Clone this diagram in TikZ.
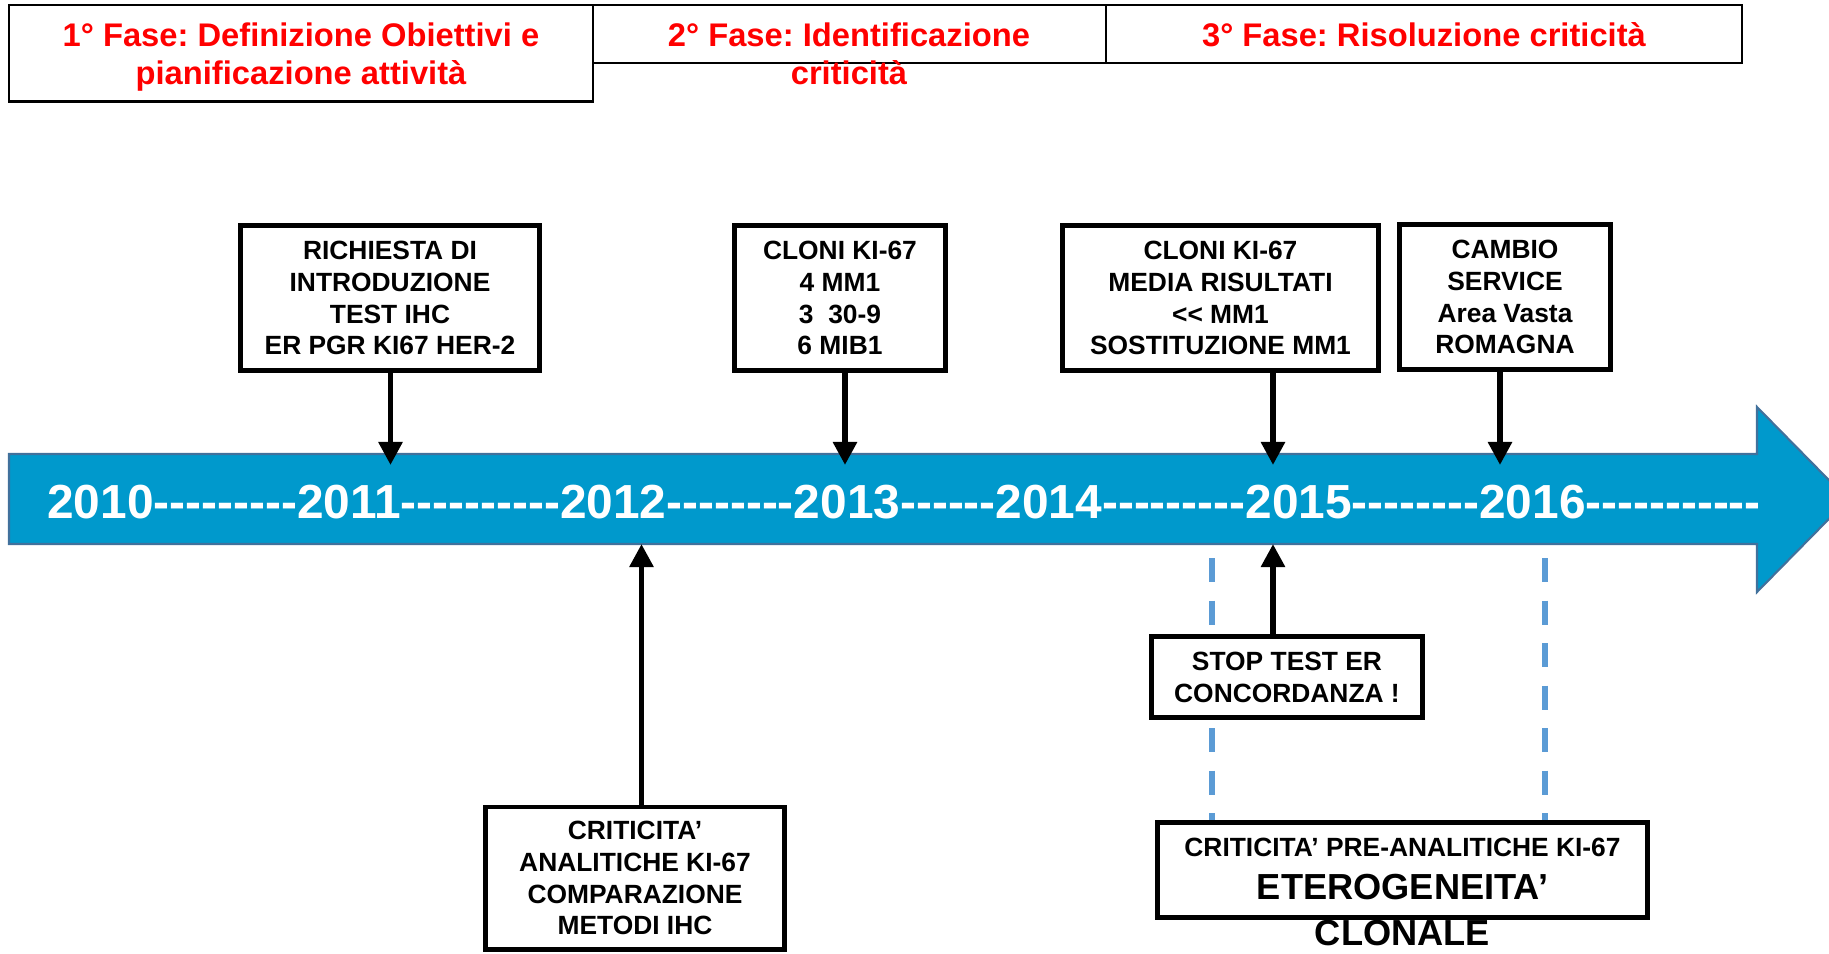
\documentclass[tikz,border=0pt]{standalone}
\usepackage{fontspec}
\setmainfont{Liberation Sans}
\usepackage{xcolor}
\usetikzlibrary{arrows.meta}
\frenchspacing
\definecolor{faserosso}{HTML}{FF0000}
\definecolor{bandablu}{HTML}{0099CC}
\definecolor{bordobanda}{HTML}{41719C}
\definecolor{trattoblu}{HTML}{5B9BD5}
\newcommand\trattini[1]{\foreach \k in {1,...,#1}{-\kern0pt}}
\tikzset{
  fase/.style={draw=black, line width=0.6pt, inner sep=0pt},
  fasetesto/.style={text=faserosso, align=center, inner sep=0pt,
    font=\fontsize{9.3}{10.95}\selectfont\bfseries},
  evento/.style={draw=black, fill=white, line width=1.4pt, align=center,
    inner sep=0pt, font=\fontsize{7.5}{9.07}\selectfont\bfseries},
  freccia/.style={-{Triangle[length=2.3mm,width=2.3mm]}, line width=1.6pt},
  anni/.style={text=white, inner sep=0pt,
    font=\fontsize{13.6}{16}\selectfont\bfseries},
  divisore/.style={trattoblu, line width=1.5pt, dash pattern=on 2.4mm off 1.85mm}
}

\begin{document}
\begin{tikzpicture}[x=0.01cm, y=-0.01cm]
  \useasboundingbox (0,0) rectangle (1829,954);
  \clip (0,0) rectangle (1829,954);

  \node[fase, minimum width=5.84cm, minimum height=0.965cm] (f1) at (301,53.25) {};
  \node[fase, minimum width=5.13cm, minimum height=0.58cm] (f2) at (849.5,34) {};
  \node[fase, minimum width=6.36cm, minimum height=0.58cm] (f3) at (1424,34) {};
  \node[fasetesto] (t1) at (301,57) {1° Fase: Definizione Obiettivi e\\pianificazione attività};
  \node[fasetesto] (t2) at (849,54) {2° Fase: Identificazione\\criticità};
  \node[fasetesto] (t3) at (1424,34.5) {3° Fase: Risoluzione criticità};

  \draw[fill=bandablu, draw=bordobanda, line width=0.6pt]
    (9,454) -- (1757,454) -- (1757,407) -- (1848,499.5) -- (1757,592)
    -- (1757,544) -- (9,544) -- cycle;
  \node[anni, anchor=base west] (anni) at (46.7,518)
    {2010\trattini{9}2011\trattini{10}2012\trattini{8}2013\trattini{6}2014\trattini{9}2015\trattini{8}2016\trattini{11}};

  \coordinate (s1) at (1212,558);
  \coordinate (s1e) at (1212,820);
  \coordinate (s2) at (1545,558);
  \coordinate (s2e) at (1545,820);
  \draw[divisore] (s1) -- (s1e);
  \draw[divisore] (s2) -- (s2e);

  \node[evento, minimum width=2.99cm, minimum height=1.45cm] (richiesta) at (390,298)
    {RICHIESTA DI\\INTRODUZIONE\\TEST IHC\\ER PGR KI67 HER-2};
  \node[evento, minimum width=2.10cm, minimum height=1.45cm] (cloni) at (840,298)
    {CLONI KI-67\\4 MM1\\3\ \ 30-9\\6 MIB1};
  \node[evento, minimum width=3.16cm, minimum height=1.45cm] (media) at (1220.5,298)
    {CLONI KI-67\\MEDIA RISULTATI\\<\kern0pt< MM1\\SOSTITUZIONE MM1};
  \node[evento, minimum width=2.10cm, minimum height=1.45cm] (cambio) at (1505,297)
    {CAMBIO\\SERVICE\\Area Vasta\\ROMAGNA};
  \node[evento, minimum width=2.99cm, minimum height=1.42cm] (analitiche) at (635,878)
    {CRITICITA’\\ANALITICHE KI-67\\COMPARAZIONE\\METODI IHC};
  \node[evento, minimum width=2.70cm, minimum height=0.81cm] (stop) at (1287,677)
    {STOP TEST ER\\CONCORDANZA !};
  \node[evento, minimum width=4.90cm, minimum height=0.95cm] (preanalitiche) at (1402.5,870) {};
  \node[align=center, inner sep=0pt, font=\fontsize{10.3}{13.1}\selectfont\bfseries] (eterogeneita) at (1402.5,892)
    {{\fontsize{7.5}{9}\selectfont CRITICITA’ PRE-ANALITICHE KI-67}\\[-1pt]ETEROGENEITA’\\CLONALE};

  \coordinate (a11) at (390.5,465);
  \coordinate (a13) at (845,465);
  \coordinate (a15) at (1273,465);
  \coordinate (a16) at (1500,465);
  \coordinate (b12) at (641.5,544);
  \coordinate (b15) at (1273,544);
  \draw[freccia] (richiesta.south -| a11) -- (a11);
  \draw[freccia] (cloni.south -| a13) -- (a13);
  \draw[freccia] (media.south -| a15) -- (a15);
  \draw[freccia] (cambio.south -| a16) -- (a16);
  \draw[freccia] (analitiche.north -| b12) -- (b12);
  \draw[freccia] (stop.north -| b15) -- (b15);
\end{tikzpicture}
\end{document}
